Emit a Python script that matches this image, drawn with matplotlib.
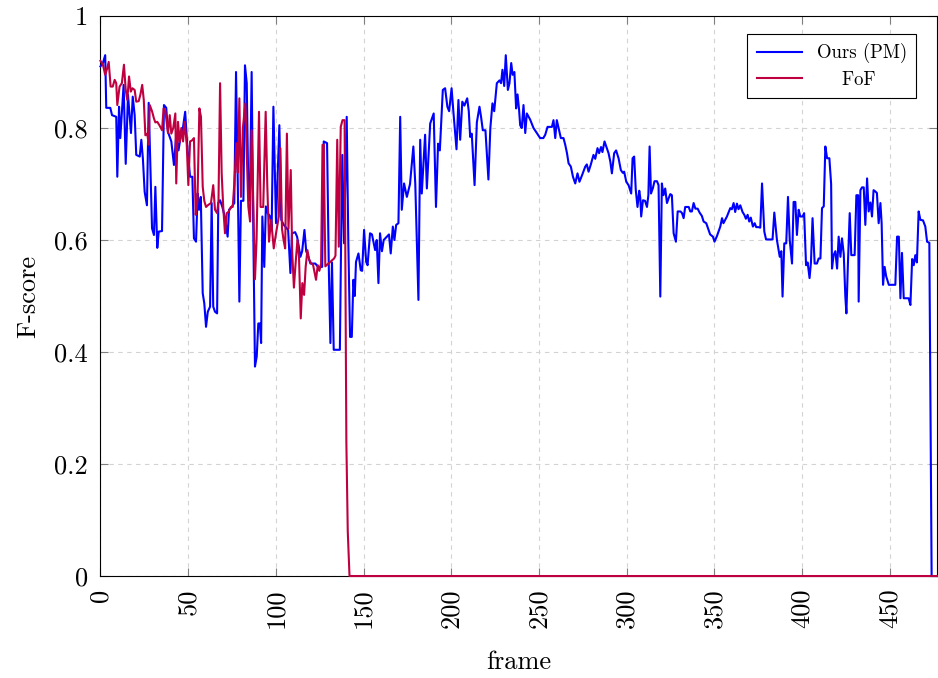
import numpy as np
import matplotlib
matplotlib.use('Agg')
import matplotlib.pyplot as plt

plt.rcParams['font.family'] = 'serif'
plt.rcParams['font.serif'] = ['cmr10', 'DejaVu Serif']
plt.rcParams['mathtext.fontset'] = 'cm'
plt.rcParams['axes.unicode_minus'] = False

# Ours (PM): polyline vertices (frame, F-score)
ours_frame = [0, 1.4, 2.7, 3.3, 5.6, 6.6, 9, 9.6, 10.6, 11.3, 13.2, 14.4, 15.7, 17.4, 18.4, 19.5,
              20.4, 22.4, 23.3, 24.2, 25.2, 26.5, 27.5, 29.4, 30.5, 31.3, 32.4, 33.2, 35.1, 36.2,
              37.5, 38.5, 40.4, 41.9, 43.2, 44.5, 45.5, 47, 48.3, 49.6, 51.1, 52.4, 53.3, 54.5,
              55.4, 56.2, 57.2, 58.3, 59.2, 60.2, 61.2, 62.5, 63.4, 64.3, 65.3, 66.5, 67.2, 68.2,
              69.5, 71, 72.5, 73.3, 74.8, 76.3, 77.3, 78.3, 79.2, 80.1, 81.5, 82.4, 83.4, 84.3,
              85.2, 86.2, 87.2, 88.1, 89.1, 90.0, 90.9, 91.6, 92.3, 93.4, 94.3, 95.4, 96.7, 97.6,
              98.6, 100.1, 102, 103.1, 104.5, 107, 108.3, 109.2, 111, 112.1, 113, 114, 115, 116.3,
              117.3, 118.5, 119.7, 122.5, 124, 126.4, 127.3, 129.2, 130.2, 131.1, 132, 133, 136.5,
              137.2, 137.9, 138.9, 140.4, 141.3, 142.3, 143.3, 144.2, 145, 145.7, 147.1, 148.4,
              149.2, 150.3, 151.5, 152.3, 153.7, 154.8, 156.6, 157.5, 158.5, 159.4, 160.5, 161.5,
              163.3, 164.5, 165.5, 166.7, 167.6, 168.6, 169.9, 170.9, 171.8, 173.1, 174.7, 176.5,
              178.4, 179.5, 181.3, 182.3, 183.2, 185.1, 186.1, 188, 190, 191.3, 192.5, 193.5,
              195.2, 196.5, 197.8, 198.8, 200.2, 201.2, 203, 204.1, 205.1, 206.3, 207.5, 209.1,
              210, 210.8, 211.7, 213.3, 214.6, 216.1, 217, 218, 219.5, 221.2, 222.3, 223.5, 224.5,
              226, 227.5, 228.4, 229.2, 230.2, 231.1, 232.3, 233.2, 234.2, 235, 236, 237, 237.8,
              238.7, 239.3, 240.2, 241.2, 242.2, 243.1, 245, 246.9, 248.8, 250.7, 252.5, 253.6,
              254.9, 257.4, 258.3, 259.3, 260.2, 261.2, 262.5, 264, 265, 266, 266.9, 268.2, 269.4,
              270.7, 272, 273.1, 274.5, 276.4, 277.3, 278.3, 279.6, 281.1, 282.1, 283.4, 284.3,
              285.4, 286.2, 287.4, 288.3, 289.7, 290.7, 291.6, 292.9, 294, 295.4, 296.7, 297.8,
              298.6, 299.8, 301.1, 302.6, 303.4, 304.3, 305.2, 306.2, 307.2, 307.8, 308.3, 309.3,
              310.5, 311.6, 312.4, 313.1, 313.9, 315, 315.9, 317.3, 318.2, 319.2, 320.1, 321, 322,
              323, 324, 324.9, 325.8, 326.8, 328.1, 329.1, 330.7, 331.6, 332.5, 333.4, 335.4,
              336.3, 337.2, 338.2, 339.2, 340.5, 341.6, 342.9, 343.9, 345.4, 346.7, 347.6, 349.2,
              350.1, 351.5, 353.4, 354.4, 355.2, 357.2, 359.1, 360, 361, 361.9, 362.9, 363.8,
              364.8, 366.1, 367.1, 368, 369, 369.9, 370.8, 372, 373, 373.9, 375.2, 376.2, 377.2,
              378.5, 379.5, 381.9, 383.2, 384.2, 385.7, 387.3, 388.2, 388.9, 389.9, 391, 392, 393,
              394.3, 395.2, 396.2, 397.1, 398.1, 399, 400.3, 401.2, 402.3, 403.2, 404.3, 405.1,
              406, 407.2, 408.5, 409.5, 410.5, 411.4, 412.4, 413.3, 414.3, 415.6, 416.6, 417.1,
              418, 419, 420, 420.9, 421.9, 422.8, 423.8, 424.7, 425.3, 426.2, 427.2, 428.1, 430,
              431, 432, 432.3, 433.3, 434.2, 435.2, 436.1, 437.1, 438, 439, 439.9, 440.8, 441.7,
              442.7, 443.7, 444.7, 445.4, 446.2, 447.1, 448, 449.5, 452.2, 453.2, 454.2, 455.2,
              456.1, 457, 458, 460.8, 461.8, 462.8, 463.7, 464.6, 465.5, 466.5, 467.5, 469, 470.3,
              471.3, 472.6, 473.9, 477]
ours_fscore = [0.91, 0.916, 0.93, 0.836, 0.836, 0.823, 0.82, 0.713, 0.838, 0.782, 0.877, 0.736,
               0.859, 0.791, 0.856, 0.823, 0.752, 0.749, 0.779, 0.745, 0.686, 0.662, 0.845, 0.621,
               0.609, 0.695, 0.586, 0.615, 0.616, 0.841, 0.836, 0.793, 0.776, 0.734, 0.787, 0.76,
               0.78, 0.8, 0.829, 0.763, 0.713, 0.713, 0.603, 0.597, 0.683, 0.654, 0.677, 0.505,
               0.487, 0.445, 0.472, 0.481, 0.666, 0.481, 0.472, 0.469, 0.666, 0.671, 0.659, 0.64,
               0.606, 0.654, 0.659, 0.666, 0.9, 0.7, 0.49, 0.67, 0.67, 0.912, 0.88, 0.689, 0.67,
               0.9, 0.6, 0.374, 0.392, 0.451, 0.451, 0.416, 0.642, 0.552, 0.66, 0.648, 0.642, 0.62,
               0.838, 0.63, 0.805, 0.636, 0.627, 0.618, 0.541, 0.612, 0.614, 0.606, 0.59, 0.57,
               0.58, 0.618, 0.58, 0.57, 0.558, 0.558, 0.552, 0.552, 0.776, 0.773, 0.55, 0.416,
               0.56, 0.404, 0.404, 0.594, 0.752, 0.594, 0.82, 0.6, 0.427, 0.427, 0.529, 0.5,
               0.561, 0.576, 0.546, 0.545, 0.618, 0.561, 0.555, 0.612, 0.61, 0.582, 0.6, 0.523,
               0.612, 0.58, 0.6, 0.606, 0.61, 0.576, 0.624, 0.6, 0.627, 0.63, 0.82, 0.654, 0.701,
               0.677, 0.7, 0.767, 0.7, 0.493, 0.779, 0.683, 0.788, 0.692, 0.808, 0.826, 0.659,
               0.772, 0.76, 0.868, 0.871, 0.838, 0.83, 0.871, 0.83, 0.762, 0.85, 0.779, 0.847,
               0.84, 0.853, 0.83, 0.784, 0.79, 0.698, 0.81, 0.838, 0.82, 0.796, 0.796, 0.708, 0.8,
               0.844, 0.83, 0.88, 0.885, 0.88, 0.904, 0.875, 0.93, 0.868, 0.88, 0.916, 0.895, 0.9,
               0.835, 0.86, 0.832, 0.805, 0.8, 0.841, 0.791, 0.826, 0.815, 0.8, 0.791, 0.782,
               0.782, 0.788, 0.802, 0.802, 0.814, 0.782, 0.814, 0.8, 0.782, 0.782, 0.77, 0.755,
               0.737, 0.731, 0.713, 0.701, 0.719, 0.704, 0.715, 0.731, 0.735, 0.722, 0.735, 0.752,
               0.745, 0.764, 0.755, 0.766, 0.757, 0.776, 0.768, 0.755, 0.74, 0.719, 0.755, 0.76,
               0.746, 0.725, 0.72, 0.722, 0.704, 0.698, 0.683, 0.746, 0.749, 0.69, 0.659, 0.688,
               0.675, 0.642, 0.671, 0.67, 0.659, 0.68, 0.767, 0.683, 0.693, 0.705, 0.705, 0.698,
               0.499, 0.701, 0.68, 0.692, 0.666, 0.675, 0.682, 0.68, 0.612, 0.597, 0.651, 0.651,
               0.648, 0.639, 0.659, 0.659, 0.651, 0.651, 0.666, 0.656, 0.656, 0.649, 0.643, 0.633,
               0.63, 0.618, 0.61, 0.606, 0.597, 0.607, 0.624, 0.639, 0.63, 0.642, 0.657, 0.655,
               0.666, 0.65, 0.665, 0.655, 0.662, 0.65, 0.645, 0.638, 0.645, 0.633, 0.64, 0.624,
               0.63, 0.623, 0.623, 0.622, 0.701, 0.615, 0.601, 0.601, 0.601, 0.649, 0.6, 0.57,
               0.58, 0.499, 0.594, 0.594, 0.677, 0.6, 0.558, 0.668, 0.668, 0.609, 0.654, 0.642,
               0.642, 0.648, 0.555, 0.56, 0.532, 0.56, 0.639, 0.558, 0.558, 0.567, 0.567, 0.657,
               0.66, 0.767, 0.746, 0.746, 0.7, 0.549, 0.573, 0.58, 0.549, 0.606, 0.57, 0.603,
               0.575, 0.499, 0.469, 0.56, 0.648, 0.573, 0.573, 0.68, 0.68, 0.49, 0.689, 0.694,
               0.694, 0.627, 0.71, 0.651, 0.667, 0.642, 0.689, 0.687, 0.684, 0.63, 0.666, 0.63,
               0.52, 0.552, 0.535, 0.52, 0.52, 0.52, 0.606, 0.606, 0.496, 0.577, 0.496, 0.496,
               0.484, 0.566, 0.555, 0.573, 0.56, 0.651, 0.636, 0.635, 0.624, 0.597, 0.595, 0.0, 0.0]

# FoF
fof_frame = [0, 1.4, 2.7, 3.7, 4.7, 5.8, 7, 8.1, 9, 9.6, 10.9, 12.2, 13.4, 14.4, 15.3, 16.3, 17.3,
             18.2, 19.5, 20.4, 21.8, 22.8, 23.8, 24.7, 25.6, 26.7, 27.5, 28.1, 29.4, 30.5, 31.3,
             32.4, 33.6, 35.1, 36, 37, 38.5, 39.5, 40.4, 41.5, 42.7, 43.2, 44.2, 45.2, 46.1, 47.1,
             48, 49.2, 50.1, 51.1, 52.3, 53.3, 54.3, 55.3, 56.4, 57.3, 58.3, 59.2, 60.2, 61.2, 63,
             64.3, 65.3, 66.5, 67.3, 68.2, 69.1, 70, 71, 72, 73, 74.4, 75.4, 76.3, 77.5, 78.3,
             79.2, 80.1, 81.2, 82.6, 83.5, 84.3, 85.3, 86.2, 87.2, 88.1, 89, 90.4, 91.3, 92.8,
             94.2, 95.1, 96.1, 97.3, 98.8, 100, 101.7, 102.6, 103.5, 104.4, 105.3, 106.3, 107.2,
             108.5, 109.3, 110.3, 111.3, 112.3, 113.2, 114.2, 115.1, 116.1, 117, 118, 119, 120.2,
             121.2, 122.9, 123.9, 124.8, 125.8, 126.6, 127.3, 128.2, 130, 131.5, 133.2, 134, 135,
             135.9, 137, 138, 139.2, 140.2, 141, 142, 477]
fof_fscore = [0.92, 0.913, 0.895, 0.905, 0.918, 0.874, 0.874, 0.886, 0.88, 0.841, 0.874, 0.88,
              0.913, 0.868, 0.85, 0.892, 0.865, 0.871, 0.868, 0.847, 0.848, 0.86, 0.877, 0.85,
              0.787, 0.79, 0.77, 0.841, 0.83, 0.817, 0.81, 0.811, 0.805, 0.796, 0.835, 0.83,
              0.791, 0.823, 0.79, 0.8, 0.826, 0.701, 0.811, 0.775, 0.8, 0.776, 0.811, 0.77,
              0.698, 0.776, 0.778, 0.782, 0.645, 0.67, 0.835, 0.82, 0.695, 0.67, 0.659, 0.662,
              0.666, 0.698, 0.654, 0.648, 0.67, 0.88, 0.72, 0.659, 0.612, 0.648, 0.65, 0.659,
              0.659, 0.7, 0.773, 0.72, 0.853, 0.677, 0.8, 0.844, 0.75, 0.66, 0.633, 0.796, 0.66,
              0.53, 0.6, 0.829, 0.659, 0.659, 0.829, 0.7, 0.597, 0.636, 0.585, 0.61, 0.642, 0.764,
              0.62, 0.6, 0.585, 0.79, 0.62, 0.725, 0.58, 0.515, 0.56, 0.6, 0.57, 0.46, 0.523,
              0.502, 0.552, 0.582, 0.565, 0.558, 0.556, 0.529, 0.555, 0.545, 0.558, 0.77, 0.77,
              0.553, 0.558, 0.562, 0.567, 0.572, 0.779, 0.588, 0.802, 0.814, 0.814, 0.24, 0.08,
              0.0, 0.0]

x_ticks = np.arange(0, 451, 50)
y_ticks = [0, 0.2, 0.4, 0.6, 0.8, 1]
y_ticklabels = ['0', '0.2', '0.4', '0.6', '0.8', '1']

fig = plt.figure(figsize=(9.38, 6.78), dpi=100)
ax = fig.add_axes([0.1071, 0.1504, 0.8919, 0.826])

ax.plot(ours_frame, ours_fscore, color='#0000ff', lw=1.5, label='Ours (PM)',
        zorder=3, clip_on=False)
ax.plot(fof_frame, fof_fscore, color='#bf0040', lw=1.5, label='    FoF',
        zorder=3, clip_on=False)

ax.set_xlim(0, 477)
ax.set_ylim(0, 1)
ax.set_xticks(x_ticks)
ax.set_xticklabels([str(t) for t in x_ticks], rotation=90)
ax.set_yticks(y_ticks)
ax.set_yticklabels(y_ticklabels)
ax.tick_params(direction='in', length=6, width=0.8, color='#808080',
               top=True, right=True, labelsize=19)
ax.tick_params(axis='x', pad=9)
ax.tick_params(axis='y', pad=9)
ax.grid(True, color='#d3d3d3', ls=(0, (4, 4)), lw=0.8)
ax.set_axisbelow(True)
for sp in ax.spines.values():
    sp.set_linewidth(0.8)

ax.set_xlabel('frame', fontsize=19, labelpad=16)
ax.set_ylabel('F-score', fontsize=19, labelpad=10)

leg = ax.legend(loc='upper right', bbox_to_anchor=(0.975, 0.968), borderaxespad=0,
                fontsize=13.5, frameon=True, fancybox=False, edgecolor='black',
                framealpha=1, handlelength=2.4, borderpad=0.5, labelspacing=0.4)
leg.get_frame().set_linewidth(0.8)
leg.set_zorder(5)

fig.savefig('out.png', dpi=100)
